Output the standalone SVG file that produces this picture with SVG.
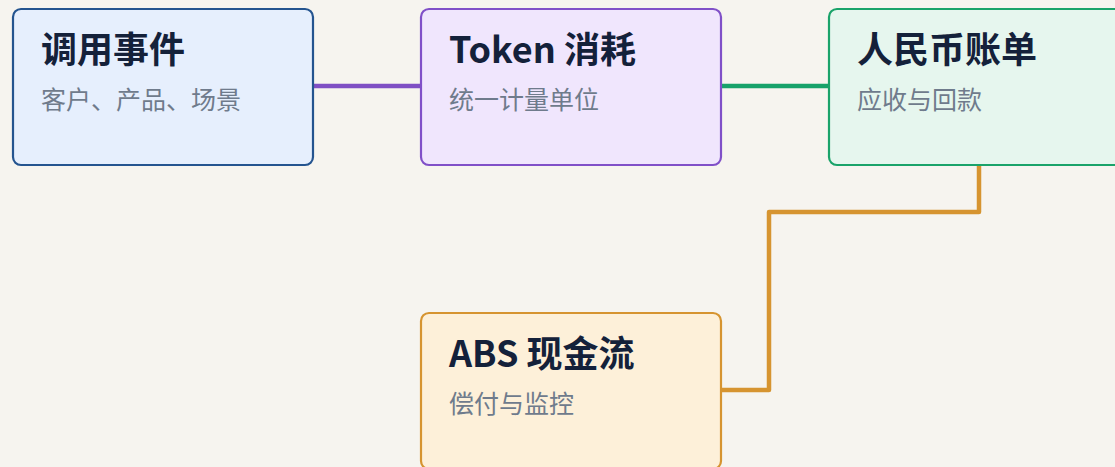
<svg xmlns="http://www.w3.org/2000/svg" width="1115" height="467" viewBox="0 0 1115 467">
<style>
.node rect{stroke-width:2.2}
.t{font-family:"Noto Sans CJK SC","Noto Sans",sans-serif;font-size:36px;font-weight:700;fill:#14213a}
.s{font-family:"Noto Sans CJK SC","Noto Sans",sans-serif;font-size:25px;fill:#6f7b8c}
.c{fill:none;stroke-width:4.5;stroke-linejoin:round}
</style>
<rect width="1115" height="467" fill="#f6f4ef"/>
<g id="connectors">
<path class="c" d="M313 86 H421" stroke="#7f4fc4"/>
<path class="c" d="M721 86 H829" stroke="#17a26a"/>
<path class="c" d="M979 165 V212 H769 V390 H721" stroke="#d69430"/>
</g>
<g id="node-call" class="node">
<rect x="13" y="9" width="300" height="156" rx="8" fill="#e6effd" stroke="#24548f"/>
<text class="t" x="41" y="63">调用事件</text>
<text class="s" x="41" y="109">客户、产品、场景</text>
</g>
<g id="node-token" class="node">
<rect x="421" y="9" width="300" height="156" rx="8" fill="#f0e6fd" stroke="#8050c8"/>
<text class="t" x="449" y="63">Token 消耗</text>
<text class="s" x="449" y="109">统一计量单位</text>
</g>
<g id="node-rmb" class="node">
<rect x="829" y="9" width="300" height="156" rx="8" fill="#e6f6ee" stroke="#1aa36a"/>
<text class="t" x="857" y="63">人民币账单</text>
<text class="s" x="857" y="109">应收与回款</text>
</g>
<g id="node-abs" class="node">
<rect x="421" y="313" width="300" height="156" rx="8" fill="#fdf0d9" stroke="#d69430"/>
<text class="t" x="449" y="367">ABS 现金流</text>
<text class="s" x="449" y="413">偿付与监控</text>
</g>
</svg>
